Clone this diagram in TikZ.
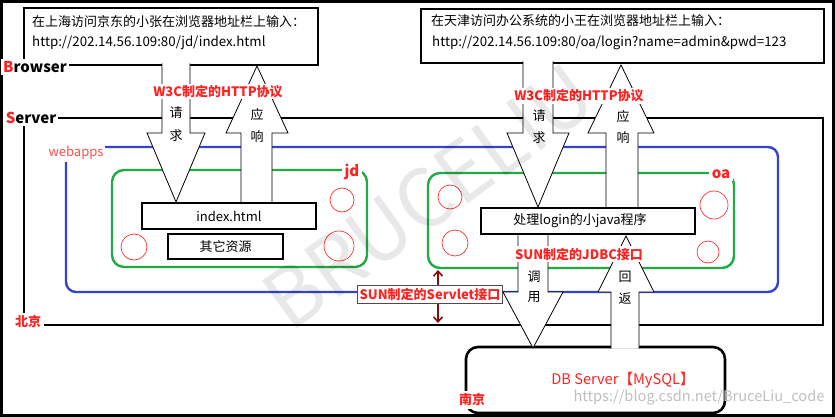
\documentclass[tikz,border=0pt]{standalone}
\usepackage{fontspec}
\setmainfont{Noto Sans CJK SC}
\usetikzlibrary{arrows.meta}

\definecolor{lblred}{HTML}{FF2222}
\definecolor{softred}{HTML}{FF4D4D}
\definecolor{webblue}{HTML}{3344CC}
\definecolor{appgreen}{HTML}{22AA44}
\definecolor{servred}{HTML}{8B0A0A}

\begin{document}
\begin{tikzpicture}[x=1pt, y=-1pt,
	framebox/.style={draw, line width=2.6, inner sep=0},
	textbox/.style={draw, line width=2.6, fill=white, inner sep=0, font=\fontsize{13}{15}\selectfont},
	webbox/.style={draw=webblue, line width=2.4, rounded corners=10pt, inner sep=0},
	appbox/.style={draw=appgreen, line width=2.4, rounded corners=12pt, inner sep=0},
	cn/.style={font=\fontsize{13}{15}\selectfont, inner sep=0},
	urltext/.style={font=\fontsize{13.3}{15}\selectfont, inner sep=0},
	redlbl/.style={font=\fontsize{13}{15}\selectfont\bfseries, text=lblred, fill=white, inner sep=1.5},
	sidelbl/.style={font=\fontsize{15}{17}\selectfont\bfseries, fill=white, inner sep=2},
	blockarr/.style={draw, fill=white, line width=0.8},
	redcirc/.style={draw=red!80, line width=0.7}
]
\useasboundingbox (0,0) rectangle (835,417);
\draw[line width=3] (1.5,1.5) rectangle (833.5,415.5);

% browser side
\node[framebox, minimum width=294, minimum height=57] (brwjd) at (171,36.5) {};
\node[framebox, minimum width=403, minimum height=54] (brwoa) at (622.5,36) {};
\node[cn, anchor=west] (jdtip) at (32,22) {在上海访问京东的小张在浏览器地址栏上输入：};
\node[urltext, anchor=west] (jdurl) at (32,43) {http://202.14.56.109:80/jd/index.html};
\node[cn, anchor=west] (oatip) at (431,21) {在天津访问办公系统的小王在浏览器地址栏上输入：};
\node[urltext, anchor=west] (oaurl) at (432,43) {http://202.14.56.109:80/oa/login?name=admin\&pwd=123};

% server side
\node[framebox, minimum width=799, minimum height=207] (server) at (423.5,221.5) {};
\node[webbox, minimum width=712, minimum height=145] (webapps) at (422,219.5) {};
\node[appbox, minimum width=255, minimum height=97] (jd) at (239.5,218.5) {};
\node[appbox, minimum width=306, minimum height=95] (oa) at (581,220.5) {};

\draw[redcirc] (342,200) circle[radius=12pt];
\draw[redcirc] (134,247) circle[radius=13pt];
\draw[redcirc] (339,246) circle[radius=15pt];
\draw[redcirc] (450,197) circle[radius=12pt];
\draw[redcirc] (455,243) circle[radius=13pt];
\draw[redcirc] (714,205) circle[radius=14pt];
\draw[redcirc] (708,252) circle[radius=11pt];

\node[framebox, rounded corners=12pt, minimum width=259, minimum height=66] (db) at (595.5,380) {};

% block arrows
\draw[blockarr] (162,63.5) -- (162,133) -- (147,133) -- (176,202) -- (205,133) -- (190,133) -- (190,63.5);
\draw[blockarr] (241,203) -- (241,133) -- (226,133) -- (257,66) -- (288,133) -- (272,133) -- (272,203);
\draw[blockarr] (523,61.5) -- (523,133) -- (507,133) -- (538,207) -- (569,133) -- (553,133) -- (553,61.5);
\draw[blockarr] (606,208) -- (606,133) -- (588,133) -- (621,65) -- (654,133) -- (638,133) -- (638,208);
\draw[blockarr] (518,234) -- (518,292) -- (503,292) -- (533,348) -- (563,292) -- (548,292) -- (548,234);
\draw[blockarr] (611,348.5) -- (611,292) -- (598,292) -- (626,236) -- (654,292) -- (639,292) -- (639,348.5);

\node[textbox, minimum width=174, minimum height=26] (index) at (229,216) {index.html};
\node[textbox, minimum width=115, minimum height=25] (other) at (225.5,246.5) {其它资源};
\node[textbox, minimum width=214, minimum height=26] (prog) at (588,221) {};
\node[cn] (progtxt) at (580,221) {处理login的小java程序};

\node[cn] (req1) at (176,113) {请};
\node[cn] (req2) at (176,136) {求};
\node[cn] (resp1) at (257,115) {应};
\node[cn] (resp2) at (257,137) {响};
\node[cn] (req3) at (539,116) {请};
\node[cn] (req4) at (539,138) {求};
\node[cn] (resp3) at (623,117) {应};
\node[cn] (resp4) at (623,138) {响};
\node[cn] (call1) at (534,277) {调};
\node[cn] (call2) at (534,297) {用};
\node[cn] (ret1) at (625,277) {回};
\node[cn] (ret2) at (625,299) {返};

% labels
\node[sidelbl] (brwlbl) at (35,67) {\textcolor{lblred}{B}rowser};
\node[sidelbl] (srvlbl) at (31,118) {\textcolor{lblred}{S}erver};
\node[font=\fontsize{13}{15}\selectfont, text=softred, fill=white, inner sep=2] (weblbl) at (76,153) {webapps};
\node[redlbl, font=\fontsize{15}{17}\selectfont\bfseries, inner sep=3] (jdlbl) at (352,172) {jd};
\node[redlbl, font=\fontsize{15}{17}\selectfont\bfseries, inner sep=3] (oalbl) at (721,174) {oa};
\node[redlbl, inner sep=3] (bjlbl) at (28,322) {北京};
\node[redlbl, inner sep=3] (njlbl) at (472,400) {南京};
\node[redlbl] (httpjd) at (218,91.5) {W3C制定的HTTP协议};
\node[redlbl] (httpoa) at (579,96) {W3C制定的HTTP协议};
\node[redlbl] (jdbc) at (579,254) {SUN制定的JDBC接口};
\node[font=\fontsize{14.6}{16}\selectfont, text=lblred] (dblbl) at (623,380) {DB Server【MySQL】};

\coordinate (svtop) at (438,270);
\coordinate (svbot) at (438,323);
\draw[servred, line width=1.6, {Straight Barb[length=5pt,width=9pt]}-{Straight Barb[length=5pt,width=9pt]}] (svtop) -- (svbot);
\node[redlbl, draw=black!70, line width=0.8, minimum width=145, minimum height=18] (servlet) at (430,294) {SUN制定的Servlet接口};

% watermark
\node[font=\fontsize{80}{80}\selectfont, text=black, opacity=0.09, rotate=36] (wmark) at (428,197) {BRUCELIU};
\node[font=\fontsize{14.6}{16}\selectfont, text=black!25, anchor=west] (blog) at (570,398) {https://blog.csdn.net/BruceLiu\_code};
\end{tikzpicture}
\end{document}
